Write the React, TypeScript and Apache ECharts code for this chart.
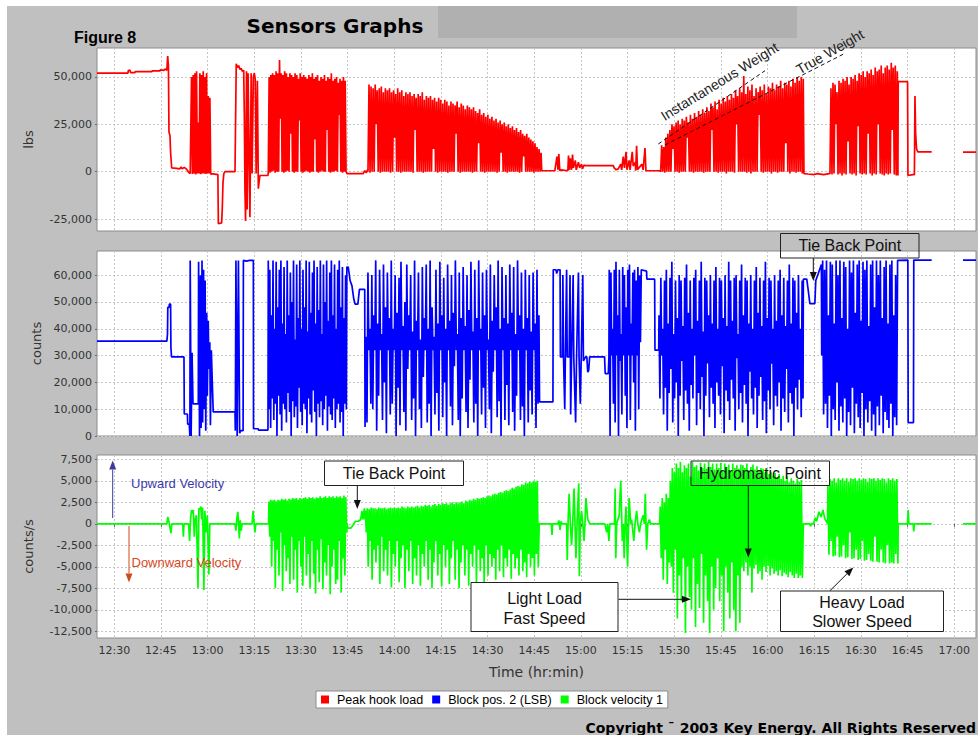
import React, { useEffect, useRef } from 'react';
import * as echarts from 'echarts';

// ---------- axes (x in minutes after 12:00) ----------
const timeTicks = [30, 45, 60, 75, 90, 105, 120, 135, 150, 165, 180, 195, 210, 225, 240, 255, 270, 285, 300];
const hookTicks = [-25000, 0, 25000, 50000];
const posTicks = [0, 10000, 20000, 30000, 40000, 50000, 60000];
const velTicks = [-12500, -10000, -7500, -5000, -2500, 0, 2500, 5000, 7500];

// ---------- Peak hook load (thousand lbs) ----------
const hookLead = [[24.44, 52], [34.4, 52], [34.5, 53.5], [35.1, 53.5], [35.2, 52.3], [36.6, 52.3], [36.7, 52.8], [42.1, 52.8], [42.2, 53.2], [44.7, 53.2], [44.8, 53.8], [46.0, 53.5], [46.3, 54.2], [46.9, 53.6], [47.16, 61], [47.4, 56], [47.58, 21], [47.9, 19], [48.1, 10], [48.45, 2], [50, 1.8], [51, 1.5], [51.5, 2.5], [51.8, 1.5], [52.5, 2.3], [53.3, 1.2], [54.0, -0.5], [54.4, -1]];
const hookBurstA = { from: 54.56, to: 61.0, swings: [[-1, 50], [-1.2, 51], [-1, 52], [-1.5, 53], [-1, 26], [-1, 52], [-1.3, 51], [-1, 53], [-1, 50], [-1.2, 52], [-1, 40], [-1, 39], [-1.5]] };
const hookMidA = [[61.2, -1], [63.3, -1.5], [63.45, -27.5], [64.5, -27], [64.7, -20], [64.94, -6], [65.2, -1], [65.58, 0], [68.8, 0], [69.0, 0], [69.2, 57], [69.6, 55], [70.0, 56], [70.4, 54], [70.8, 54.5], [71.2, 53], [71.6, 53.5], [71.8, 30], [72.0, -10], [72.2, -26], [72.5, 53], [72.7, -20], [73.0, 52], [73.3, 10], [73.6, -24], [74.0, 52], [74.3, -1], [74.7, 50], [75.0, 52], [75.3, 49], [75.6, -1], [76.0, 48], [76.3, -9], [76.8, -2], [79.4, -2]];
const hookBurstC = { from: 79.5, to: 104.5, swings: [[0, 50], [-0.5, 51], [0, 52], [0.5, 51], [-0.5, 53], [0, 52], [0, 59], [28, 52], [0, 51], [-0.5, 53], [0, 52], [0.5, 50], [0, 52], [20, 51], [0, 50], [-0.5, 52], [0, 51], [0, 49], [27, 52], [0, 50], [-0.5, 51], [0, 50], [0.5, 49], [0, 51], [-0.5, 50], [0, 52], [0, 49], [17, 50], [0, 51], [-0.5, 48], [0, 50], [0.5, 49], [0, 51], [0, 48], [22, 50], [0, 49], [-0.5, 52], [0, 48], [0, 49], [0.5, 50], [0, 47], [30, 49], [0, 48], [-0.5, 50], [0, 48], [0]] };
const hookMidB = [[104.8, -1], [110.0, -1], [110.5, 0.5], [111.0, -0.5], [111.4, 1]];
const hookBurstDHighs = [46, 45, 44, 46, 43, 44, 45, 42, 44, 43, 44, 42, 43, 41, 44, 42, 43, 40, 42, 41, 42, 40, 41, 39, 41, 40, 42, 38, 40, 39, 40, 38, 39, 37, 39, 38, 36, 38, 37, 35, 37, 36, 35, 37, 34, 36, 35, 33, 35, 34, 33, 34, 32, 31, 33, 30, 31, 29, 30, 28, 29, 27, 28, 26, 27, 25, 26, 24, 25, 23, 24, 22, 23, 21, 22, 20, 19, 20, 18, 17, 16, 15, 13, 12, 10];
const hookBurstDLows = [0, -0.5, 0, 0, 25, 0, -0.5, 0, 0, 0, 0, -0.5, 0, 18, 0, 0, -0.5, 0, 0, 0, 0, 0, -0.5, 22, 0, 0, 0, -0.5, 0, 0, 0, 0, 12, 0, -0.5, 0, 0, 0, 0, -0.5, 0, 0, 0, 20, 0, -0.5, 0, 0, 0, 0, 0, -0.5, 0, 0, 15, 0, 0, -0.5, 0, 0, 0, 0, 0, -0.5, 0, 10, 0, 0, -0.5, 0, 0, 0, 0, 0, -0.5, 0, 8, 0, 0, 0, 0, -0.5, 0, 0, 0];
const hookMidC = [[167.4, 0.5], [171.6, 0.5], [172.3, 8], [172.6, 1], [172.9, 9.3], [173.2, 0.5], [173.6, 1], [175.8, 0.5], [176.0, 8.5], [176.3, 1], [176.6, 7], [177.0, 1], [177.3, 9], [177.6, 2], [178.2, 6], [178.5, 1], [179.2, 5], [179.6, 2], [180.2, 4], [180.5, 1.5], [181.0, 3.5], [181.3, 3.2], [190.4, 3.2], [190.7, 2], [191.3, 1], [192.0, 1.5], [192.8, 4], [193.1, 1], [193.6, 8], [194.0, 2], [194.5, 10.5], [194.8, 1], [195.5, 6], [195.8, 1], [196.5, 10.5], [196.8, 3], [197.5, 5], [197.6, 0.5], [197.9, 13.7], [198.2, 1], [199.6, 4], [200.0, 1], [200.6, 12.5], [200.9, 0.5], [205.4, 0.5]];
const hookBurstEHighs = [14, 13, 18, 20, 22, 25, 24, 26, 27, 25, 28, 27, 29, 26, 30, 28, 31, 29, 32, 30, 33, 31, 34, 32, 36, 34, 37, 33, 38, 36, 39, 37, 40, 38, 41, 39, 43, 40, 44, 42, 50.5, 41, 45, 43, 46, 40, 44, 42, 45, 43, 46, 41, 45, 44, 47, 43, 46, 45, 48, 44, 47, 46, 48, 45, 49, 47, 50, 48, 50, 49];
const hookBurstELows = [0, 0, -0.5, 0, 0, 0, 12, 0, 0, -0.5, 0, 0, 0, 18, 0, 0, -0.5, 0, 0, 0, 0, -0.5, 0, 0, 0, 22, 0, 0, -0.5, 0, 0, 0, -1, 0, 0, 0, -0.5, 25, 0, 0, 0, 0, -0.5, 0, -1, 0, 0, 0, 30, 0, -0.5, 0, 0, 0, -1, 0, 0, -0.5, 0, 0, 0, 15, 0, -1, 0, 0, -0.5, 0, 0, -1];
const hookMidD = [[251.7, -1], [253, -1.2], [255, -1.5], [256, -1], [258, -1.5], [259.8, -1]];
const hookBurstFHighs = [44, 47, 46, 42, 48, 47, 49, 48, 50, 46, 50, 49, 51, 48, 52, 51, 53, 50, 53, 52, 54, 51, 55, 53, 54, 56, 52, 55, 56, 54, 57.5, 55, 56, 53];
const hookBurstFLows = [-1, -1.5, -1, 25, -1.5, -1, -2, -1, -1.5, 16, -1, -1.5, -1, -2, 24, -1, -1.5, -1, -1.5, 20, -1, -2, -1, -1.5, 25, -1, -1.5, -2, -1, -1.5, -1, 22, -1.5, -2];
const hookTail = [[281.9, -2], [282.0, 47.5], [285.0, 47.5], [285.13, -2], [286.7, -1.5], [287.2, -1.5], [287.38, 40], [287.6, 20], [287.9, 12], [288.3, 10.5], [292.75, 10.5], [292.9, null], [302.81, 10.3], [307, 10.3]];

// ---------- Block pos. 2 (thousand counts) ----------
const posLead = [[24.44, 35.4], [46.9, 35.4], [47.1, 38], [47.2, 48], [47.6, 48], [47.7, 49.2], [48.1, 49.2], [48.2, 33], [48.4, 29.5], [52.4, 29.5], [52.5, 8.2], [53.5, 8.2], [53.6, 4.4], [54.1, 4.4], [54.3, 0], [54.4, 65.5], [54.7, 0], [55.0, 31], [55.3, 12], [57.0, 12], [57.1, 65], [57.4, 0], [57.7, 60], [57.9, 3], [58.2, 65.5], [58.4, 5], [58.7, 62], [58.9, 10], [59.2, 58], [59.4, 2], [59.7, 46], [59.9, 15], [60.2, 43], [60.4, 25], [60.7, 35], [60.9, 4], [61.2, 32], [61.5, 20], [61.8, 9], [68.8, 9], [68.9, 2], [69.1, 65.5], [69.5, 0], [69.9, 65.5], [70.3, 1], [70.6, 2], [71.4, 2], [71.5, 65.5], [72.5, 65.2], [73.5, 65.5], [74.7, 65.5], [74.75, 2.7], [76.3, 2.7], [76.35, 2.2], [79.4, 2.2]];
const posBurstB = { from: 79.5, to: 104.6, swings: [[65.5, 10], [62, 3], [45, 14], [65.5, 6], [40, 12], [65, 0], [48, 15], [62, 8], [65.5, 2], [42, 12], [63, 10], [38, 5], [65.5, 16], [45, 9], [61, 0], [50, 13], [65.5, 7], [36, 11], [64, 3], [44, 18], [65.5, 9], [40, 4], [62, 12], [48, 10], [65.5, 1], [39, 14], [65, 8], [46, 5], [61, 17], [65.5, 9], [42, 0], [63, 12], [47, 7], [65.5, 13], [38, 4], [64, 10], [50, 15], [65.5, 2], [43, 11], [61, 8], [65.5, 6], [45, 14], [64, 3], [40, 10], [62, 12], [65.5, 5], [48, 9], [63, 0], [44, 12], [60, 10]] };
const posMidA = [[104.75, 63], [105.2, 63], [105.8, 58], [106.4, 56], [107.0, 51], [107.4, 49.2], [108.3, 49.2], [108.8, 54.7], [110.5, 54.7]];
const posBurstC = { from: 110.6, to: 166.5, swings: [[3.4, 37], [5, 61], [32, 40], [12, 60], [10, 45], [32, 65.5], [2, 42], [15, 62], [32, 38], [6, 64], [20, 48], [1, 61], [32, 44], [8, 65.5], [12, 40], [32, 60], [0, 46], [18, 59], [4, 65], [32, 41], [9, 50], [2, 64], [25, 45], [32, 60], [6, 39], [14, 65.5], [0, 43], [32, 61], [10, 36], [3, 63], [22, 44], [32, 64], [5, 40], [12, 65.5], [0, 48], [32, 37], [8, 62], [16, 42], [2, 65], [32, 45], [7, 59], [20, 40], [0, 64], [32, 43], [11, 60], [4, 46], [26, 65.5], [32, 38], [6, 61], [0, 44], [14, 63], [32, 41], [9, 60], [3, 47], [21, 65], [32, 39], [5, 62], [12, 44], [0, 65.5], [32, 40], [8, 61], [18, 45], [3, 62], [32, 36], [10, 64], [1, 43], [24, 60], [32, 48], [7, 65.5], [13, 40], [0, 63], [32, 44], [6, 60], [19, 42], [4, 64], [32, 46], [9, 63], [2, 38], [15, 65.5], [32, 45], [6, 61], [11, 40], [0, 62], [32, 44], [5, 60], [17, 39], [8, 61], [32, 42], [3, 62], [12, 45]] };
const posMidB = [[166.7, 12.7], [171.0, 12.7], [171.1, 62], [172.0, 62], [172.2, 60.6], [172.6, 62], [173.3, 62], [173.4, 29.5], [174.0, 29.5], [174.2, 60], [174.4, 29.5], [174.8, 10], [175.0, 29.5], [175.4, 62], [175.6, 29.5], [176.2, 29.5], [176.5, 60], [176.7, 8], [177.0, 29.5], [177.5, 60], [177.7, 29.5], [178.3, 5], [178.6, 29.5], [179.2, 61], [179.4, 29.5], [179.8, 12], [180.1, 29.5], [180.6, 60], [180.8, 28], [181.5, 29.5], [181.9, 29.5], [182.2, 23.8], [182.5, 24.5], [182.8, 29.5], [187.6, 29.5], [187.8, 23.3], [188.8, 23.3], [189.0, 29.5]];
const posBurstD = { from: 189.1, to: 199.4, swings: [[62, 0], [61, 30], [40, 12], [62, 5], [65, 30], [45, 0], [62, 28], [38, 8], [63, 30], [60, 15], [48, 3], [62, 30], [64, 6], [42, 30], [61, 20], [62, 2], [58, 30], [63, 10], [60, 35], [62]] };
const posMidC = [[199.5, 62], [201.1, 61.5], [201.2, 58.5], [203.7, 58.5], [203.8, 32], [205.0, 32]];
const posBurstE = { from: 205.1, to: 251.4, swings: [[45, 14], [59, 30], [40, 8], [58, 18], [62, 2], [42, 16], [59, 25], [65, 5], [38, 14], [58, 20], [44, 0], [60, 15], [58, 28], [41, 6], [59, 17], [64, 12], [46, 2], [58, 19], [40, 14], [59, 30], [62, 4], [43, 16], [58, 10], [65, 22], [39, 0], [59, 15], [58, 27], [45, 7], [60, 18], [42, 12], [58, 3], [63, 20], [40, 15], [59, 8], [58, 26], [44, 1], [60, 17], [41, 13], [65, 6], [58, 21], [43, 14], [59, 2], [60, 29], [38, 10], [58, 16], [64, 5], [45, 19], [59, 12], [58, 0], [42, 24], [60, 14], [40, 8], [58, 18], [63, 3], [46, 15], [59, 22], [41, 6], [58, 13], [65, 1], [44, 17], [59, 10], [58, 27], [40, 4], [60, 15], [43, 11], [58, 20], [62, 2], [45, 14], [59, 9], [41, 25], [58, 5], [64, 16], [42, 12], [59, 0], [58, 18], [46, 10], [60, 21], [40, 7], [58, 14]] };
const posMidD = [[251.5, 58.5], [252.6, 58.5], [253.0, 55], [253.6, 49.4], [255.2, 49.4], [255.5, 58], [256.3, 60.6], [257.3, 64]];
const posBurstF = { from: 257.4, to: 281.8, swings: [[30, 65.5], [8, 62], [12, 65.5], [3, 45], [15, 65], [0, 64], [10, 42], [6, 65.5], [20, 60], [2, 65.5], [11, 44], [5, 65], [14, 63], [0, 40], [9, 65.5], [4, 61], [18, 65.5], [1, 46], [12, 64], [7, 65.5], [3, 43], [16, 65], [0, 62], [10, 65.5], [5, 41], [13, 64], [2, 65.5], [8, 48], [0, 65.5], [11, 60], [4, 65.5], [15, 44], [1, 63], [9, 65.5], [6, 42], [3, 64], [12, 65.5], [0, 45], [7, 60], [4, 65.5]] };
const posTail = [[282.0, 65.6], [285.1, 65.6], [285.2, 5], [286.9, 5], [287.0, 65.6], [292.75, 65.6], [292.9, null], [302.81, 65.6], [307, 65.6]];

// ---------- Block velocity 1 (thousand counts/s) ----------
const velLead = [[24.44, 0], [46.9, 0], [47.2, 0.8], [47.6, 0.2], [48.2, -1.1], [48.5, 0], [52.0, 0], [52.2, -1.5], [52.4, 0], [53.9, 0], [54.2, -2], [54.5, 0.5], [54.8, 1.6], [55.1, 1.2], [55.4, 1.6], [55.7, -1.5], [56.0, 0.5], [56.4, 1], [56.9, -7.5], [57.2, 1.8], [57.5, 1.7], [57.8, 2], [58.1, 0.5], [58.4, 1.9], [58.8, -7.7], [59.1, 1.5], [59.5, -1], [59.9, 1], [60.4, -5.9], [60.7, 0], [68.8, 0], [69.1, -0.8], [69.4, 0.6], [69.7, 1.4], [69.9, 0.4], [70.2, -1.7], [70.5, 0.4], [70.8, -0.8], [71.1, 0], [74.3, 0], [74.6, 1.5], [74.9, 0.3], [75.2, -1], [75.5, 0], [79.6, 0]];
const velBurstA = { from: 79.7, to: 104.7, swings: [[2.6, -1.5], [2.8, -5], [2.7, -2], [2.8, -7.5], [2.6, -3], [2.8, -6], [2.7, -1], [2.9, -7.8], [2.8, -2.5], [2.9, -5.5], [2.7, -4], [2.9, -7], [2.8, -1.5], [3.0, -6.5], [2.9, -3], [3.0, -8], [2.8, -2], [3.0, -5], [2.9, -7.2], [3.0, -1.5], [3.1, -6], [2.9, -3.5], [3.1, -7.5], [3.0, -2], [3.1, -5.8], [2.9, -8.1], [3.1, -3], [3.0, -6.8], [3.2, -1.8], [3.0, -7.6], [3.1, -4.5], [3.2, -6], [3.0, -2.5], [3.2, -8.2], [3.1, -5], [3.2, -3], [3.0, -7], [3.2, -6.5], [3.1, -2], [3.2, -8], [3.0, -4], [3.3, -6], [3.1, -1]] };
const velMidA = [[104.9, 0], [105.0, -0.5], [106.0, -0.5], [106.5, -0.3], [107.5, 0.3], [108.5, 0.3], [109.2, 0.5], [109.6, 1.5], [109.9, 0.5], [110.4, 1.8], [110.6, 0.5]];
const velBurstB = { from: 110.7, to: 166.6, swings: [[1.5, -1], [1.8, -5], [1.7, -2], [1.9, -6.5], [1.8, -3], [1.8, -4.5], [1.7, -2.5], [1.9, -7], [1.8, -1.5], [1.8, -5.5], [1.9, -3], [1.7, -6], [1.8, -2], [1.9, -7.4], [1.8, -3.5], [1.9, -5], [1.8, -2], [1.9, -6.8], [1.8, -4], [2.0, -2.5], [1.9, -7.5], [1.8, -3], [2.0, -5.5], [1.9, -2], [2.0, -7], [1.9, -4], [2.0, -6], [2.1, -2.5], [1.9, -7.2], [2.1, -3.5], [2.0, -5], [2.2, -2], [2.1, -6.5], [2.2, -3], [2.0, -7.5], [2.2, -4.5], [2.3, -2], [2.1, -6], [2.3, -3.5], [2.2, -7.3], [2.4, -2.5], [2.3, -5], [2.4, -3], [2.2, -7], [2.4, -4], [2.5, -2], [2.3, -6.5], [2.5, -3], [2.4, -7.5], [2.5, -4.5], [2.6, -2.5], [2.4, -6], [2.7, -3], [2.6, -7.2], [2.8, -3.5], [2.7, -5], [2.9, -2.5], [2.8, -6.8], [3.0, -3], [2.9, -5.5], [3.0, -4], [3.1, -7], [3.0, -2.5], [3.2, -6], [3.3, -3.5], [3.2, -5], [3.4, -4], [3.5, -6.5], [3.4, -3], [3.6, -5.5], [3.7, -2.5], [3.6, -6.2], [3.8, -4], [3.9, -5], [3.8, -3], [4.0, -6.4], [4.2, -3.5], [4.1, -5.2], [4.3, -4], [4.4, -6], [4.3, -3], [4.6, -5.5], [4.5, -4.5], [4.8, -6.2], [4.7, -3.5], [4.9, -5], [4.8, -4], [5.0, -6], [4.9, -3.5], [5.0, -5], [0]] };
const velMidB = [[166.8, 0], [170.5, 0], [170.7, -1.3], [170.9, 0], [172.6, 0], [172.9, 0.4], [173.3, -0.7], [173.6, 0.3], [173.9, 0], [175.4, 0], [175.6, -4.2], [175.9, 0.5], [176.2, 3.5], [176.6, 0], [177.0, -2.5], [177.4, 0.5], [177.8, 4.1], [178.1, 0], [178.4, -4], [178.8, 0.5], [179.3, 4.7], [179.5, -6.1], [179.8, 0], [180.2, 1.5], [180.6, 0], [181.0, -2], [181.3, 0], [181.6, 3], [182.2, 0.5], [182.9, 0], [187.7, 0], [188.3, -1], [188.6, 0], [189.0, -2], [189.3, 0], [190.8, 0], [191.0, 4.1], [191.2, -4], [191.5, 0], [192.3, 1], [192.8, 5], [193.3, -2], [193.6, 0], [193.9, -4], [194.2, 0], [194.5, 2], [195.0, -5], [195.5, 3], [196.0, 0], [196.3, 0.5], [197.0, -2], [197.4, 0], [197.9, 1.5], [198.3, 0], [198.8, -1], [199.2, 0], [200.0, 1], [200.4, 0], [200.7, 3.5], [201.1, -3], [201.5, 0], [202.0, 0.5], [202.4, 0], [205.3, 0]];
const velBurstC = { from: 205.5, to: 251.5, swings: [[2, -4], [3, -6.5], [2.5, -3], [3.5, -7], [3, -4.5], [5, -5], [6.5, -8], [6, -3], [7, -11], [6.5, -6], [7.2, -9], [6, -4], [6.8, -12.7], [6.5, -5], [7, -8.5], [5.5, -10], [7.2, -4], [6.6, -12], [6.8, -7], [6.2, -9.8], [7.1, -3.5], [6.5, -11.5], [7, -6], [6.4, -9], [7.2, -12.7], [6.6, -5], [7, -10], [6.3, -7.5], [7, -4], [6.5, -9], [7.1, -6], [6.2, -12.5], [7, -5], [6.6, -8], [6.9, -11], [6.2, -4.5], [7, -10], [6.5, -12.5], [6.8, -6], [6.4, -11.5], [6.9, -5], [6.8, -5.5], [6.5, -4.5], [7, -6], [6.2, -5], [6.6, -8], [6.9, -5.2], [6.3, -4.8], [6.7, -5.8], [6.1, -5.5], [6.5, -6.5], [6.4, -5], [6.0, -5.6], [6.3, -4.9], [5.8, -6], [6.0, -5.2], [5.6, -5.8], [5.9, -5.5], [5.4, -6.0], [5.8, -5.4], [5.2, -6.1], [5.6, -5.7], [5.0, -5.9], [5.5, -6.2], [4.8, -5.6], [5.3, -6.0], [5.0, -6.3], [4.7, -5.8], [5.2, -6.3], [4.9, -6.0], [5.1, -6.3], [0]] };
const velMidC = [[251.6, 0], [253.6, 0], [253.8, -0.3], [254.1, 0], [254.8, 0], [255.3, 0.7], [255.8, 0.3], [256.5, 1.4], [257.2, 0.8], [257.8, 1.6], [258.4, 0.6], [259.3, 0]];
const velBurstD = { from: 259.4, to: 281.9, swings: [[4.5, -3.6], [5.2, -2], [5.0, -3.8], [5.3, -3.7], [4.8, -1.5], [5.3, -3.9], [5.1, -3.8], [5.3, -2.5], [5.0, -4.0], [5.3, -3.9], [4.9, -1], [5.3, -4.1], [5.2, -4.0], [5.3, -3], [5.0, -4.2], [5.3, -4.1], [5.1, -2], [5.3, -4.3], [5.2, -4.2], [4.9, -3.5], [5.3, -4.3], [5.2, -4.4], [5.3, -1.5], [5.0, -4.4], [5.3, -4.5], [5.1, -3], [5.3, -4.5], [5.2, -4.6], [4.8, -2.5], [5.3, -4.6], [5.1, -4.5], [5.3, -4.6], [5.0, -3.5], [5.2, -4.6]] };
const velTail = [[282.0, 0], [285.0, 0], [285.2, 1.6], [285.4, 0], [286.8, 0], [287.0, -0.9], [287.2, 0], [292.75, 0], [292.9, null], [302.81, 0], [307, 0]];

type Burst = { from: number; to: number; swings?: number[][]; lows?: number[]; highs?: number[] };
type Part = (number | null)[][] | Burst;

function burstPoints(b: Burst): (number | null)[][] {
  const seq: number[] = [];
  if (b.swings) b.swings.forEach((p) => p.forEach((v) => seq.push(v)));
  else if (b.lows && b.highs) {
    b.lows.forEach((lo, i) => {
      seq.push(lo);
      if (b.highs![i] !== undefined) seq.push(b.highs![i]);
    });
  }
  const n = seq.length;
  return seq.map((v, i) => [b.from + ((b.to - b.from) * i) / Math.max(n - 1, 1), v]);
}

function assemble(parts: Part[]) {
  const out: (number | string)[][] = [];
  parts.forEach((p) => {
    const pts = Array.isArray(p) ? p : burstPoints(p);
    pts.forEach(([x, y]) => out.push([x as number, y === null ? '-' : (y as number) * 1000]));
  });
  return out;
}

const hookData = assemble([
  hookLead, hookBurstA, hookMidA, hookBurstC, hookMidB,
  { from: 111.55, to: 167.2, lows: hookBurstDLows, highs: hookBurstDHighs }, hookMidC,
  { from: 205.64, to: 251.47, lows: hookBurstELows, highs: hookBurstEHighs }, hookMidD,
  { from: 260.06, to: 281.7, lows: hookBurstFLows, highs: hookBurstFHighs }, hookTail,
]);
const posData = assemble([posLead, posBurstB, posMidA, posBurstC, posMidB, posBurstD, posMidC, posBurstE, posMidD, posBurstF, posTail]);
const velData = assemble([velLead, velBurstA, velMidA, velBurstB, velMidB, velBurstC, velMidC, velBurstD, velTail]);

const fmtTime = (v: number) => {
  const total = 12 * 60 + Math.round(v);
  const h = Math.floor(total / 60);
  const m = total % 60;
  return `${h}:${m < 10 ? '0' : ''}${m}`;
};
const fmtNum = (v: number) => Math.round(v).toLocaleString('en-US');

const AXIS_FONT = 'DejaVu Sans';
const ANN_FONT = 'Liberation Sans';

function arrow(x1: number, y1: number, x2: number, y2: number, color: string) {
  const ang = Math.atan2(y2 - y1, x2 - x1);
  const len = 9;
  const half = 3.5;
  const bx = x2 - len * Math.cos(ang);
  const by = y2 - len * Math.sin(ang);
  const px = -Math.sin(ang) * half;
  const py = Math.cos(ang) * half;
  return [
    { type: 'line', z: 100, silent: true, shape: { x1, y1, x2: bx, y2: by }, style: { stroke: color, lineWidth: 1 } },
    { type: 'polygon', z: 100, silent: true, shape: { points: [[x2, y2], [bx + px, by + py], [bx - px, by - py]] }, style: { fill: color } },
  ];
}

function txt(text: string, x: number, y: number, o: any = {}) {
  return {
    type: 'text', z: 102, silent: true, x, y, rotation: o.rotation || 0,
    style: {
      text, fill: o.color || '#111', fontSize: o.size || 16, fontFamily: o.family || ANN_FONT,
      fontWeight: o.weight || 'normal',
      align: o.align || 'center', verticalAlign: 'middle',
      textAlign: o.align || 'center', textVerticalAlign: 'middle',
    },
  };
}

function box(x: number, y: number, w: number, h: number, fill: string) {
  return { type: 'rect', z: 101, silent: true, shape: { x, y, width: w, height: h }, style: { fill, stroke: '#222', lineWidth: 1 } };
}

function buildOption() {
  const gridBase = { show: true, backgroundColor: '#ffffff', borderColor: '#8c8c8c', borderWidth: 1, outerBoundsMode: 'none', containLabel: false };
  const grids = [
    { ...gridBase, left: 97, top: 48, width: 879, height: 183 },
    { ...gridBase, left: 97, top: 251, width: 879, height: 185 },
    { ...gridBase, left: 97, top: 455, width: 879, height: 183 },
  ];
  const splitLine = { show: true, lineStyle: { color: '#c6c6c6', type: [2, 2], width: 1 } };
  const xAxes = [0, 1, 2].map((i) => ({
    type: 'value', gridIndex: i, min: 24.44, max: 307,
    axisLine: { show: false },
    axisTick: { show: i === 2, customValues: timeTicks, length: 3, lineStyle: { color: '#666' } },
    axisLabel: { show: i === 2, customValues: timeTicks, formatter: fmtTime, color: '#333', fontSize: 11, fontFamily: AXIS_FONT, margin: 7 },
    splitLine,
    name: i === 2 ? 'Time (hr:min)' : '',
    nameLocation: 'middle', nameGap: 27,
    nameTextStyle: { color: '#333', fontSize: 14, fontFamily: AXIS_FONT },
  }));
  const yCommon = (i: number, min: number, max: number, ticks: number[], name: string, gap: number) => ({
    type: 'value', gridIndex: i, min, max,
    axisLine: { show: false },
    axisTick: { show: true, customValues: ticks, length: 2, lineStyle: { color: '#666' } },
    axisLabel: { customValues: ticks, formatter: fmtNum, color: '#333', fontSize: 11, fontFamily: AXIS_FONT, margin: 5 },
    splitLine,
    name, nameLocation: 'middle', nameGap: gap,
    nameTextStyle: { color: '#333', fontSize: 13, fontFamily: AXIS_FONT },
  });
  const yAxes = [
    yCommon(0, -31300, 65300, hookTicks, 'lbs', 62),
    yCommon(1, 0, 69000, posTicks, 'counts', 54),
    yCommon(2, -13275, 8000, velTicks, 'counts/s', 62),
  ];
  const line = (name: string, idx: number, data: any[], color: string) => ({
    name, type: 'line', xAxisIndex: idx, yAxisIndex: idx, data,
    showSymbol: false, symbol: 'none', z: 3,
    lineStyle: { color, width: 1.7 }, itemStyle: { color },
    emphasis: { disabled: true }, animation: false,
  });

  const elements: any[] = [
    txt('Sensors Graphs', 246.5, 26, { size: 20, weight: 'bold', family: 'DejaVu Sans', align: 'left', color: '#000' }),
    txt('Figure 8', 74, 37.5, { size: 16, weight: 'bold', align: 'left', color: '#000' }),
    txt('Copyright \u00AF 2003 Key Energy. All Rights Reserved', 976, 727.5, { size: 14, weight: 'bold', family: 'DejaVu Sans', align: 'right', color: '#000' }),
    // hook load annotations
    { type: 'line', z: 100, silent: true, shape: { x1: 658.3, y1: 144, x2: 765, y2: 70.7 }, style: { stroke: '#111', lineWidth: 1, lineDash: [4, 3] } },
    { type: 'line', z: 100, silent: true, shape: { x1: 665, y1: 145, x2: 845, y2: 53.3 }, style: { stroke: '#111', lineWidth: 1, lineDash: [4, 3] } },
    txt('Instantaneous Weight', 719.5, 81.5, { size: 14, rotation: 0.553, color: '#222' }),
    txt('True Weight', 830, 51.7, { size: 14, rotation: 0.523, color: '#222' }),
    // block position annotation
    box(780.5, 233.5, 138.5, 24.5, 'none'),
    txt('Tie Back Point', 849.8, 245.8),
    ...arrow(813.3, 258, 813.3, 281, '#111'),
    // velocity annotations
    ...arrow(112.7, 518, 112.7, 460.5, '#3a3aa0'),
    txt('Upward Velocity', 131, 483, { size: 13, align: 'left', color: '#3b3ba8' }),
    ...arrow(129, 526, 129, 582.5, '#d04a1c'),
    txt('Downward Velocity', 131.5, 562.5, { size: 13, align: 'left', color: '#d8461a' }),
    box(324.5, 461, 139, 24.5, '#ffffff'),
    txt('Tie Back Point', 394, 473.3),
    ...arrow(357.3, 486, 357.3, 509, '#111'),
    box(691, 461, 138.5, 24.5, 'none'),
    txt('Hydromatic Point', 760, 473.3),
    ...arrow(748.3, 486, 748.3, 557.5, '#111'),
    box(471, 582.5, 147, 49, '#ffffff'),
    txt('Light Load', 544.5, 598.5),
    txt('Fast Speed', 544.5, 618.5),
    ...arrow(618.5, 599.3, 691, 599.3, '#111'),
    box(780.5, 591, 163, 40.5, '#ffffff'),
    txt('Heavy Load', 862, 602.7),
    txt('Slower Speed', 862, 621.7),
    ...arrow(830, 590.7, 853.3, 567.5, '#111'),
  ];

  return {
    animation: false,
    backgroundColor: 'transparent',
    grid: grids,
    xAxis: xAxes,
    yAxis: yAxes,
    legend: {
      show: true, left: 316, top: 691, orient: 'horizontal',
      icon: 'rect', itemWidth: 8, itemHeight: 8, itemGap: 9,
      padding: [2, 5], backgroundColor: '#ffffff', borderColor: '#8c8c8c', borderWidth: 1, borderRadius: 0,
      selectedMode: false,
      textStyle: { color: '#000', fontSize: 12.5, fontFamily: ANN_FONT, padding: [0, 0, 0, 3] },
      data: ['Peak hook load', 'Block pos. 2 (LSB)', 'Block velocity 1'],
    },
    series: [
      line('Peak hook load', 0, hookData, '#ff0000'),
      line('Block pos. 2 (LSB)', 1, posData, '#0000ff'),
      line('Block velocity 1', 2, velData, '#00ff00'),
    ],
    graphic: { elements },
  };
}

export default function App() {
  const ref = useRef<HTMLDivElement>(null);
  useEffect(() => {
    if (!ref.current) return;
    const chart = echarts.init(ref.current, null, { renderer: 'svg' });
    chart.setOption(buildOption() as any);
    return () => chart.dispose();
  }, []);
  return (
    <div style={{ position: 'absolute', left: 0, top: 0, width: 978, height: 735, background: '#ffffff', overflow: 'hidden' }}>
      <div style={{ position: 'absolute', left: 7, top: 6, right: 0, bottom: 0, background: '#c0c0c0' }} />
      <div style={{ position: 'absolute', left: 438, top: 6, width: 359, height: 32, background: '#b0b0b0' }} />
      <div ref={ref} style={{ position: 'absolute', left: 0, top: 0, width: 978, height: 735 }} />
    </div>
  );
}
